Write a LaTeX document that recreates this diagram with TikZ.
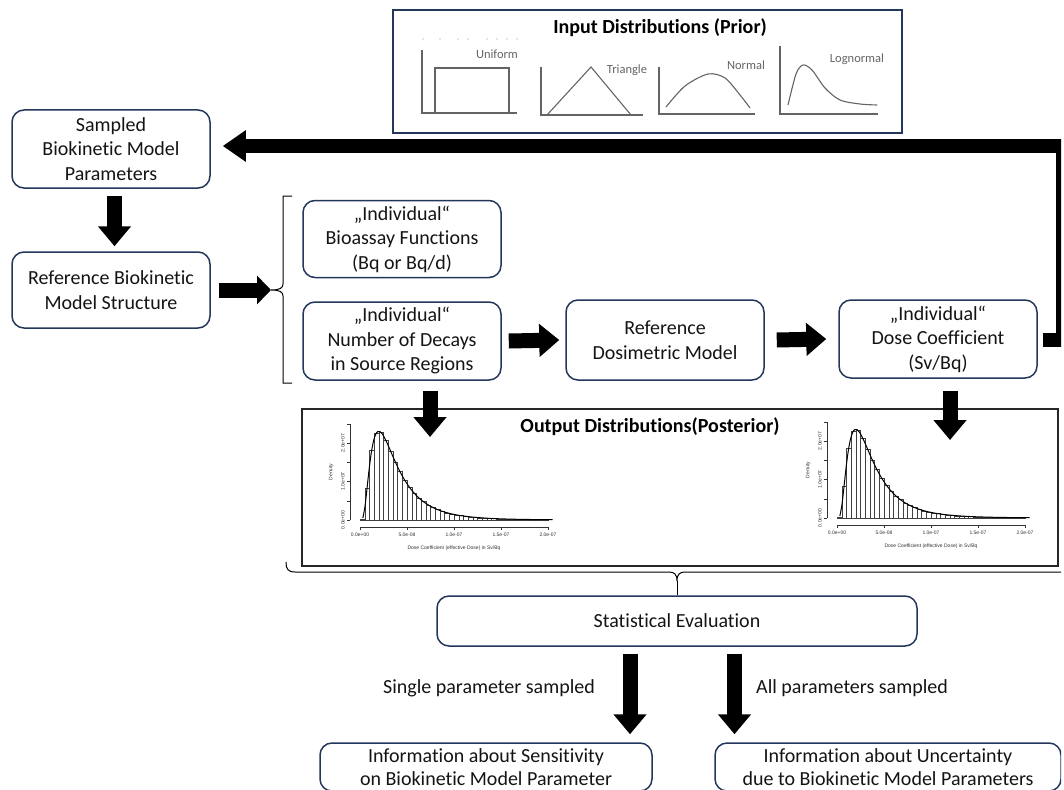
\documentclass[tikz,border=0pt]{standalone}
\usepackage{fontspec}
\setmainfont{Carlito}[Ligatures=NoCommon]
\newfontfamily\hfont{Liberation Sans}
\usetikzlibrary{arrows.meta,calc}
\definecolor{boxc}{RGB}{35,55,90}
\definecolor{txt}{RGB}{20,20,20}
\definecolor{dgray}{RGB}{100,100,100}
\newcommand{\drawhist}{%
  \foreach \i in {0,...,39}{%
    \pgfmathsetmacro{\uc}{0.5*\i+0.25}%
    \pgfmathsetmacro{\hh}{38.5*dens(\uc)}%
    \draw[histbar] ({4.7*\i},0) rectangle ({4.7*\i+4.7},{-\hh});
  }
  \draw[histcurve] plot[domain=0.3:20.5, samples=90, smooth] ({9.4*\x},{-38.5*dens(\x)});
  \draw[histax] (-10,0) -- (-10,-96.25);
  \foreach \t in {0,...,5}{\draw[histax] (-10,{-19.25*\t}) -- (-13,{-19.25*\t});}
  \node[histtxt, rotate=90] at (-17,0) {0.0e+00};
  \node[histtxt, rotate=90] at (-17,-38.5) {1.0e+07};
  \node[histtxt, rotate=90] at (-17,-77) {2.0e+07};
  \node[histtxt, rotate=90] at (-29,-48) {Density};
  \draw[histax] (0,7) -- (188,7);
  \foreach \t/\l in {0/0.0e+00,1/5.0e-08,2/1.0e-07,3/1.5e-07,4/2.0e-07}{%
    \draw[histax] ({47*\t},7) -- ({47*\t},10);
    \node[histtxt] at ({47*\t},15) {\l};
  }
  \node[histtxt] at (94,28) {Dose Coefficient (effective Dose) in Sv/Bq};
}
\begin{document}
\begin{tikzpicture}[x=1pt,y=-1pt,
  declare function={dens(\u)=10/(\u*1.717)*exp(-((ln(\u)-1.162)^2)/0.9385);},
  box/.style={draw=boxc, line width=1.5pt, rounded corners=12pt, align=center,
    text=txt, inner sep=0pt, font=\fontsize{20}{24.5}\selectfont},
  lbl/.style={text=txt, font=\fontsize{20}{24.5}\selectfont, inner sep=0pt},
  ttl/.style={text=black, font=\bfseries\fontsize{20}{24}\selectfont, inner sep=0pt},
  bigarrow/.style={line width=15pt, black, -{Triangle[width=32pt,length=20pt]}},
  distl/.style={dgray, line width=1.1pt},
  distt/.style={text=dgray, font=\fontsize{12.5}{12.5}\selectfont, inner sep=0pt},
  histbar/.style={draw=black!75, line width=0.4pt},
  histcurve/.style={black, line width=1pt},
  histax/.style={black!80, line width=0.5pt},
  histtxt/.style={text=black!80, inner sep=0pt, font=\hfont\fontsize{5}{5}\selectfont}
]
\useasboundingbox (0,0) rectangle (1064,789);
\clip (0,0) rectangle (1061,789);

% ---------- input distributions ----------
\node[draw=boxc, line width=2pt, minimum width=509pt, minimum height=123pt, inner sep=0pt] (prior) at (647.5,71.5) {};
\node[ttl] (priort) at (660,28) {Input Distributions (Prior)};
% uniform
\draw[distl] (422,50) -- (422,113) -- (517,113);
\draw[distl] (435,113) -- (435,68) -- (509,68) -- (509,113);
\foreach \d in {423,440,458,468,487,497,507,517}{\fill[dgray!70] (\d,39) circle (0.7pt);}
\node[distt] (tu) at (497,54) {Uniform};
% triangle
\draw[distl] (541,67) -- (541,115) -- (643,115);
\draw[distl] (547,115) -- (591,67) -- (631,115);
\node[distt] (tt) at (627,70) {Triangle};
% normal
\draw[distl] (659,67) -- (659,114) -- (755,114);
\draw[distl] plot[smooth] coordinates {(666,107) (685,86) (708,74) (725,78) (740,95) (750,108)};
\node[distt] (tn) at (746,65) {Normal};
% lognormal
\draw[distl] (780,46) -- (780,114) -- (878,114);
\draw[distl] plot[smooth] coordinates {(788,105) (796,74) (803,65) (812,70) (825,88) (840,100) (860,104) (877,105)};
\node[distt] (tl) at (857,59) {Lognormal};

% ---------- process boxes ----------
\node[box, minimum width=198pt, minimum height=78pt] (samp) at (111,149) {Sampled\\Biokinetic Model\\Parameters};
\node[box, minimum width=198pt, minimum height=76pt] (ref) at (111,290) {Reference Biokinetic\\Model Structure};
\node[box, minimum width=198pt, minimum height=77pt] (bio) at (402,239) {„Individual“\\Bioassay Functions\\(Bq or Bq/d)};
\node[box, minimum width=198pt, minimum height=78pt] (dec) at (402,341) {„Individual“\\Number of Decays\\in Source Regions};
\node[box, minimum width=198pt, minimum height=80pt] (dos) at (665,340) {Reference\\Dosimetric Model};
\node[box, minimum width=198pt, minimum height=78pt] (dose) at (938,339) {„Individual“\\Dose Coefficient\\(Sv/Bq)};

% bracket around bio / dec
\coordinate (brk) at (271,290);
\draw[black, line width=1pt] (292,196) -- (283,196) -- (283,284)
  .. controls (283,288) and (280,290) .. (brk)
  .. controls (280,290) and (283,292) .. (283,296) -- (283,383) -- (292,383);

% ---------- output distributions ----------
\node[draw=black!85, line width=2pt, minimum width=756pt, minimum height=157pt, inner sep=0pt] (post) at (680,487.5) {};
\node[ttl] (postt) at (650,427) {Output Distributions(Posterior)};
\begin{scope}[shift={(360,520)}]\drawhist\end{scope}
\begin{scope}[shift={(837,518)}]\drawhist\end{scope}

% brace under output
\coordinate (bc) at (677,581);
\draw[black, line width=1pt] (286,562) .. controls (286,569) and (288,572) .. (295,572)
  -- (669,572) .. controls (674,572) and (677,574) .. (bc)
  .. controls (677,574) and (680,572) .. (685,572) -- (1061,572);

% ---------- evaluation ----------
\node[box, minimum width=480pt, minimum height=50pt] (stat) at (677,621) {Statistical Evaluation};
\draw[black, line width=1pt] (bc) -- (stat.north);
\node[lbl] (l1) at (489,688) {Single parameter sampled};
\node[lbl] (l2) at (852,688) {All parameters sampled};
\node[box, minimum width=332pt, minimum height=48pt, font=\fontsize{20}{23.5}\selectfont] (sens) at (486,767) {Information about Sensitivity\\on Biokinetic Model Parameter};
\node[box, minimum width=346pt, minimum height=48pt, font=\fontsize{20}{23.5}\selectfont] (unc) at (888,767) {Information about Uncertainty\\due to Biokinetic Model Parameters};

% ---------- arrows ----------
\draw[bigarrow] ($(samp.south)+(3.5,7)$) -- ($(ref.north)+(3.5,-5)$);
\draw[bigarrow, -{Triangle[width=28pt,length=14pt]}] ($(ref.east)+(8,0)$) -- (brk);
\draw[bigarrow] ($(dec.east)+(7,0)$) -- ($(dos.west)+(-6,0)$);
\draw[bigarrow] ($(dos.east)+(12,0)$) -- ($(dose.west)+(-12,0)$);
\draw[bigarrow] ($(dec.south)+(28,10)$) -- ($(post.north -| dec.south)+(28,29)$);
\draw[bigarrow] ($(dose.south)+(12,12)$) -- ($(post.north -| dose.south)+(12,32)$);
\draw[bigarrow] ($(stat.south)+(-47,7)$) -- ($(sens.north -| stat.south)+(-47,-8)$);
\draw[bigarrow] ($(stat.south)+(57.5,7)$) -- ($(unc.north -| stat.south)+(57.5,-8)$);
% feedback loop
\coordinate (fb) at ($(dose.east)+(5,1)$);
\draw[line width=14pt, black, line join=miter, -{Triangle[width=30pt,length=23pt]}]
  (fb) -- ++(20,0) |- ($(samp.east)+(12,-3)$);
\end{tikzpicture}
\end{document}
